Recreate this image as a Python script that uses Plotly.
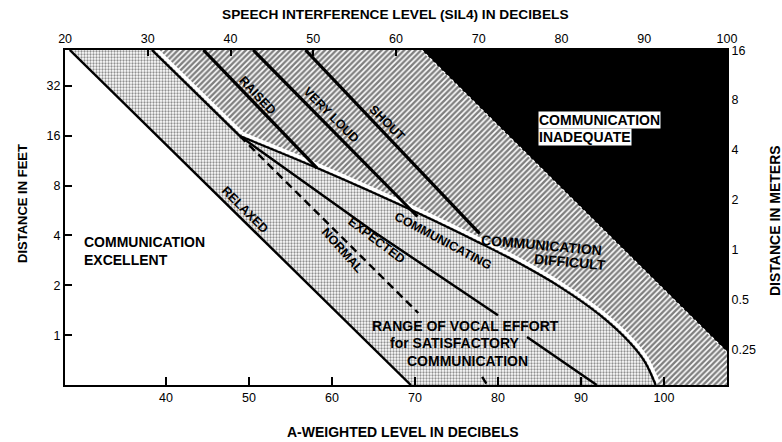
import math
import plotly.graph_objects as go

# ---- axes -------------------------------------------------------------
FT_PER_M = 3.2808

DBA_TICKS = [40, 50, 60, 70, 80, 90, 100]
SIL_TICKS = [20, 30, 40, 50, 60, 70, 80, 90, 100]
FEET_TICKS = [1, 2, 4, 8, 16, 32]
METER_TICKS = [0.25, 0.5, 1, 2, 4, 8, 16]
METER_LABELS = ["0.25", "0.5", "1", "2", "4", "8", "16"]

DBA_RANGE = [27.83, 107.6]
SIL_RANGE = [19.99, 100.01]
FT_RANGE = [0.5, 52.6]

# ---- voice-level lines (A-weighted level in dB, distance in feet) -----
RELAXED_DBA = [28.4, 69.5]
RELAXED_FT = [52.6, 0.5]

RAISED_DBA = [44.5, 58.2]
RAISED_FT = [52.6, 10.2]

VERY_LOUD_DBA = [50.5, 70.3]
VERY_LOUD_FT = [52.6, 5.2]

SHOUT_DBA = [56.8, 77.8]
SHOUT_FT = [52.6, 4.1]

# normal voice: solid down to the junction, dashed below it
NORMAL_SOLID_DBA = [38.3, 48.9]
NORMAL_SOLID_FT = [52.6, 15.9]
NORMAL_DASH_DBA = [48.9, 70.4, None, 78.1, 78.7]
NORMAL_DASH_FT = [15.9, 1.36, None, 0.56, 0.5]

# expected voice level
EXPECTED_DBA = [48.9, 64.9, 80.0, None, 83.5, 91.9]
EXPECTED_FT = [15.9, 4.25, 1.32, None, 0.975, 0.5]

# limit of satisfactory communication
COMM_DBA = [48.9, 58.2, 70.6, 77.8, 82.3, 87.5, 92.3, 95.9, 97.7, 99.0]
COMM_FT = [15.9, 10.2, 5.38, 3.6, 2.76, 1.95, 1.32, 0.90, 0.69, 0.5]

# limit beyond which communication is inadequate
LIMIT_DBA = [70.8, 107.6]
LIMIT_FT = [52.6, 0.79]

FONT = "Liberation Sans, Arial, sans-serif"

fig = go.Figure()

# ---- shaded zones -------------------------------------------------------
zone_x = [RELAXED_DBA[0]] + NORMAL_SOLID_DBA + COMM_DBA[1:] + [RELAXED_DBA[1]]
zone_y = [RELAXED_FT[0]] + NORMAL_SOLID_FT + COMM_FT[1:] + [RELAXED_FT[1]]
fig.add_trace(go.Scatter(
    x=zone_x, y=zone_y, fill="toself", mode="lines", line=dict(width=0),
    fillcolor="white",
    fillpattern=dict(shape=".", size=3, solidity=0.45, fgcolor="#222", bgcolor="white"),
    hoverinfo="skip", showlegend=False))

diff_x = NORMAL_SOLID_DBA + COMM_DBA[1:] + [DBA_RANGE[1]] + LIMIT_DBA[::-1]
diff_y = NORMAL_SOLID_FT + COMM_FT[1:] + [FT_RANGE[0]] + LIMIT_FT[::-1]
fig.add_trace(go.Scatter(
    x=diff_x, y=diff_y, fill="toself", mode="lines", line=dict(width=0),
    fillcolor="white",
    fillpattern=dict(shape="/", size=4, solidity=0.6, fgcolor="black", bgcolor="white"),
    hoverinfo="skip", showlegend=False))

fig.add_trace(go.Scatter(
    x=LIMIT_DBA + [DBA_RANGE[1]], y=LIMIT_FT + [FT_RANGE[1]],
    fill="toself", mode="lines", line=dict(width=0), fillcolor="black",
    hoverinfo="skip", showlegend=False))
fig.add_trace(go.Scatter(
    x=LIMIT_DBA, y=LIMIT_FT, mode="lines",
    line=dict(color="white", width=1.2, dash="3px,3px"),
    hoverinfo="skip", showlegend=False))

# ---- white highlight along the upper edge of the satisfactory range ----
fig.add_trace(go.Scatter(
    x=[a + 0.3 for a in NORMAL_SOLID_DBA], y=[d * 1.035 for d in NORMAL_SOLID_FT],
    mode="lines", line=dict(color="white", width=3.5),
    hoverinfo="skip", showlegend=False))
fig.add_trace(go.Scatter(
    x=[a + 0.3 for a in COMM_DBA], y=[d * 1.035 for d in COMM_FT],
    mode="lines", line=dict(color="white", width=3.5, shape="spline", smoothing=0.8),
    hoverinfo="skip", showlegend=False))


def line(x, y, width, dash="solid", shape="linear"):
    fig.add_trace(go.Scatter(
        x=x, y=y, mode="lines", connectgaps=False,
        line=dict(color="black", width=width, dash=dash, shape=shape),
        hoverinfo="skip", showlegend=False))


line(COMM_DBA, COMM_FT, 2.2, shape="spline")
line(NORMAL_SOLID_DBA, NORMAL_SOLID_FT, 2.4)
line(NORMAL_DASH_DBA, NORMAL_DASH_FT, 2.4, dash="8px,5px")
line(EXPECTED_DBA, EXPECTED_FT, 2.4)
line(RELAXED_DBA, RELAXED_FT, 2.4)
line(RAISED_DBA, RAISED_FT, 3.2)
line(VERY_LOUD_DBA, VERY_LOUD_FT, 3.2)
line(SHOUT_DBA, SHOUT_FT, 3.2)

# ---- text -----------------------------------------------------------------
PLOT_L, PLOT_T, PLOT_W, PLOT_H = 65, 50, 662, 335


def at(px, py):
    return (px - PLOT_L) / PLOT_W, (PLOT_T + PLOT_H - py) / PLOT_H


def label(text, px, py, angle=0, size=14, xanchor="center", **kw):
    x, y = at(px, py)
    fig.add_annotation(
        x=x, y=y, xref="paper", yref="paper", text=text, showarrow=False,
        xanchor=xanchor, yanchor="middle", textangle=angle,
        font=dict(family=FONT, size=size, color="black"), **kw)


label("<b>SPEECH INTERFERENCE LEVEL (SIL4) IN DECIBELS</b>", 395, 15, size=13.7)
label("<b>A-WEIGHTED LEVEL IN DECIBELS</b>", 403, 432, size=14)
label("<b>DISTANCE IN FEET</b>", 22, 204, angle=-90, size=13)
label("<b>DISTANCE IN METERS</b>", 775, 221, angle=-90, size=14)

label("<b>COMMUNICATION<br>EXCELLENT</b>", 82, 251, xanchor="left", align="left")
label("<b>COMMUNICATION</b>", 538, 120, xanchor="left", bgcolor="white", borderpad=0)
label("<b>INADEQUATE</b>", 538, 137, xanchor="left", bgcolor="white", borderpad=0)
label("<b>COMMUNICATION</b>", 541, 245, angle=5)
label("<b>DIFFICULT</b>", 570, 262, angle=5)
label("<b>RANGE OF VOCAL EFFORT</b>", 465, 326)
label("<b>for SATISFACTORY</b>", 455, 343)
label("<b>COMMUNICATION</b>", 467, 361)

label("<b>RELAXED</b>", 245, 210, angle=45, size=12.5)
label("<b>NORMAL</b>", 342, 250, angle=48, size=12.5)
label("<b>EXPECTED</b>", 376, 240, angle=37, size=12.5)
label("<b>COMMUNICATING</b>", 443, 241, angle=28, size=12.5)
label("<b>RAISED</b>", 257, 95, angle=47, size=12.5)
label("<b>VERY LOUD</b>", 331, 115, angle=45, size=12.5)
label("<b>SHOUT</b>", 387, 123, angle=45, size=12.5)

# ---- layout ----------------------------------------------------------------
tickfont = dict(family=FONT, size=12.5, color="black")
axis_common = dict(showgrid=False, zeroline=False, showline=True,
                   linecolor="black", linewidth=2, tickfont=tickfont)

fig.update_layout(
    width=782, height=442,
    margin=dict(l=PLOT_L, r=782 - PLOT_L - PLOT_W, t=PLOT_T, b=442 - PLOT_T - PLOT_H),
    paper_bgcolor="white", plot_bgcolor="white",
    showlegend=False,
    xaxis=dict(range=DBA_RANGE, tickvals=DBA_TICKS, ticks="inside", ticklen=8,
               tickwidth=1.5, tickcolor="black", **axis_common),
    xaxis2=dict(range=SIL_RANGE, tickvals=SIL_TICKS, overlaying="x", side="top",
                ticks="inside", ticklen=6, tickwidth=1.5, tickcolor="black",
                **axis_common),
    yaxis=dict(type="log", range=[math.log10(f) for f in FT_RANGE],
               tickvals=FEET_TICKS, ticks="inside", ticklen=7, tickwidth=1.5,
               tickcolor="black", **axis_common),
    yaxis2=dict(type="log", range=[math.log10(f / FT_PER_M) for f in FT_RANGE],
                tickvals=METER_TICKS, ticktext=METER_LABELS,
                overlaying="y", side="right", ticks="", **axis_common),
)

# invisible traces so the secondary axes are drawn
fig.add_trace(go.Scatter(x=[SIL_RANGE[0]], y=[FT_RANGE[0]], xaxis="x2", yaxis="y",
                         mode="markers", marker=dict(opacity=0), hoverinfo="skip"))
fig.add_trace(go.Scatter(x=[DBA_RANGE[0]], y=[FT_RANGE[0] / FT_PER_M], xaxis="x", yaxis="y2",
                         mode="markers", marker=dict(opacity=0), hoverinfo="skip"))

fig.write_html("out.html")
